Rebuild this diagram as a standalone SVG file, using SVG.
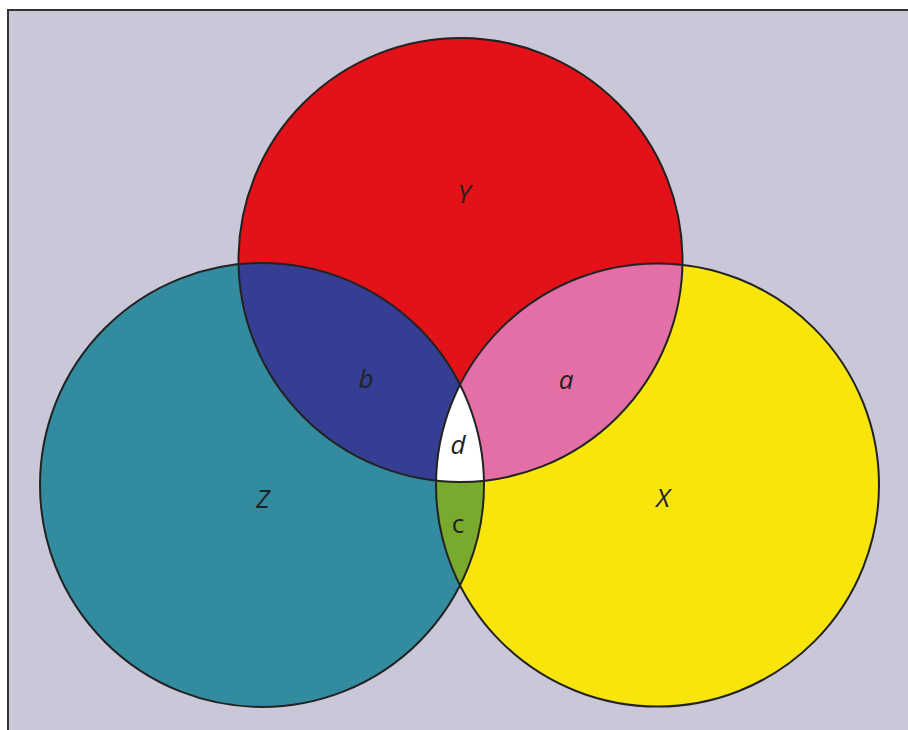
<svg xmlns="http://www.w3.org/2000/svg" width="908" height="730" viewBox="0 0 908 730">
<style>
.lbl{font-family:"Open Sans","Liberation Sans",sans-serif;font-size:26px;font-style:italic;fill:#222;text-anchor:middle}
.up{font-style:normal}
.ring{fill:none;stroke:#222;stroke-width:2}
</style>
<defs>
<clipPath id="cY"><circle cx="460.5" cy="260" r="222"/></clipPath>
<clipPath id="cZ"><circle cx="262" cy="485" r="222"/></clipPath>
</defs>
<rect x="0" y="0" width="908" height="730" fill="#ffffff"/>
<rect x="8" y="10" width="920" height="740" fill="#cac8d8" stroke="#333" stroke-width="2"/>
<g id="fills">
<circle cx="460.5" cy="260" r="222" fill="#e31118"/>
<circle cx="262" cy="485" r="222" fill="#338ba0"/>
<circle cx="657.5" cy="485" r="221.5" fill="#f8e50c"/>
<circle cx="262" cy="485" r="222" fill="#363e93" clip-path="url(#cY)"/>
<circle cx="657.5" cy="485" r="221.5" fill="#e46ea6" clip-path="url(#cY)"/>
<circle cx="657.5" cy="485" r="221.5" fill="#79a92d" clip-path="url(#cZ)"/>
<g clip-path="url(#cY)"><circle cx="657.5" cy="485" r="221.5" fill="#ffffff" clip-path="url(#cZ)"/></g>
</g>
<g id="Y"><circle class="ring" cx="460.5" cy="260" r="222"/><text class="lbl" x="464" y="203">Y</text></g>
<g id="Z"><circle class="ring" cx="262" cy="485" r="222"/><text class="lbl" x="263" y="508">Z</text></g>
<g id="X"><circle class="ring" cx="657.5" cy="485" r="221.5"/><text class="lbl" x="663" y="507">X</text></g>
<g id="a"><text class="lbl" x="566" y="389">a</text></g>
<g id="b"><text class="lbl" x="366" y="388">b</text></g>
<g id="c"><text class="lbl up" x="458" y="533">c</text></g>
<g id="d"><text class="lbl" x="458" y="454">d</text></g>
</svg>
